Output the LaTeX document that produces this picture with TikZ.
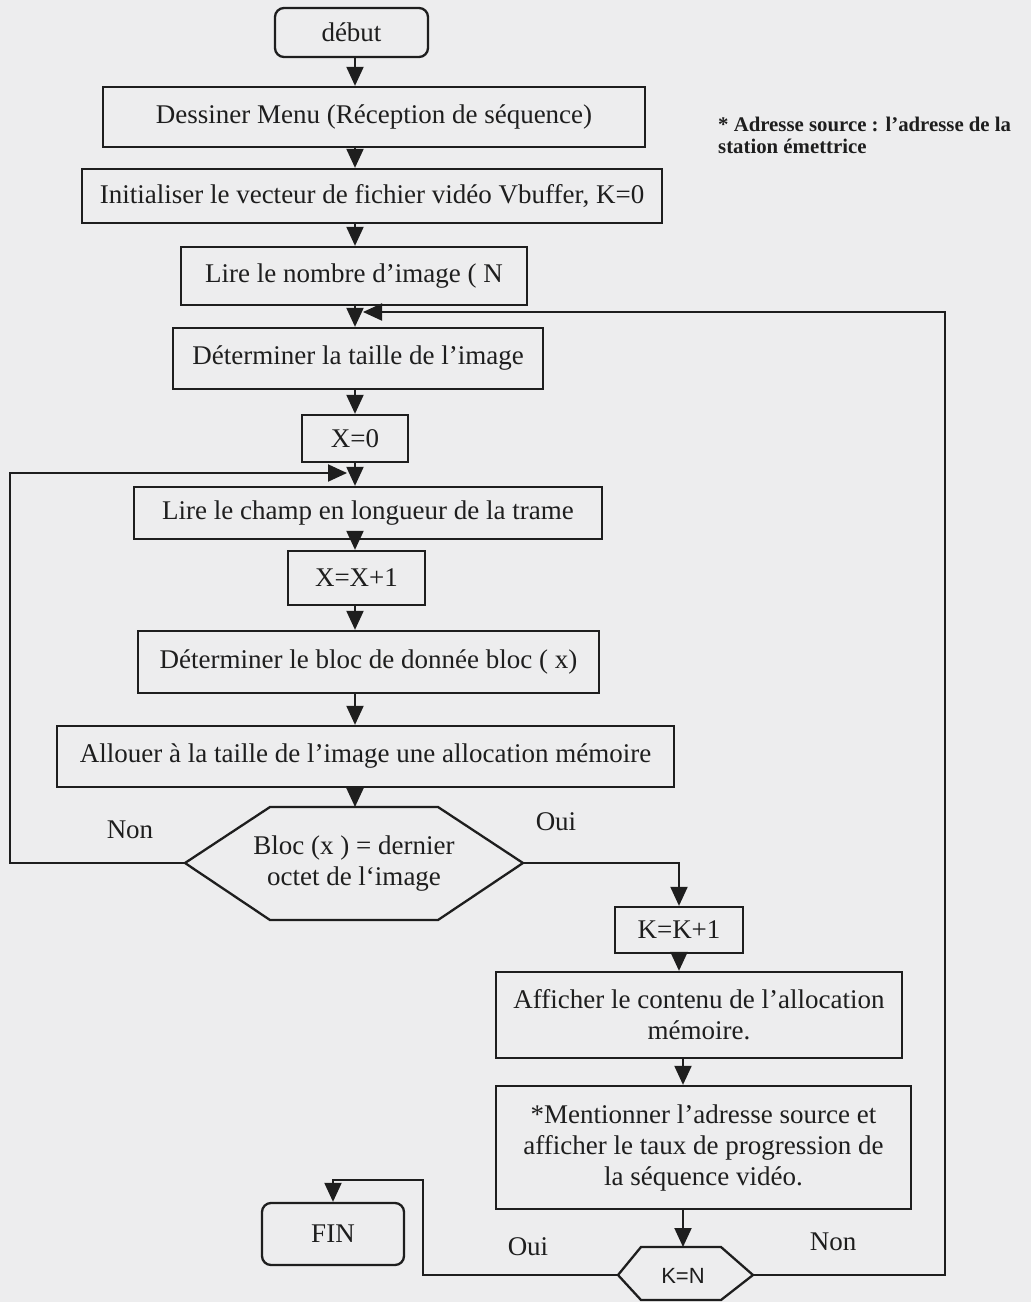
\documentclass[tikz,border=0pt]{standalone}
\usepackage{fontspec}
\setmainfont{Liberation Serif}
\newfontfamily\labelsans{Liberation Sans}
\usetikzlibrary{arrows.meta}
\definecolor{paper}{RGB}{237,237,238}
\definecolor{ink}{RGB}{30,30,30}
\begin{document}
\begin{tikzpicture}[x=1pt,y=-1pt,
  txt/.style={text=ink, font=\fontsize{27}{31}\selectfont},
  box/.style={txt, draw=ink, line width=2.3pt, rectangle, inner sep=0pt, align=center},
  term/.style={box, rounded corners=9pt},
  lbl/.style={txt, inner sep=0pt},
  flow/.style={draw=ink, line width=2pt, -{Triangle[length=19pt,width=17pt]}},
  hexa/.style={draw=ink, line width=2.3pt, line join=miter}
]
% page
\path[fill=paper, use as bounding box] (0,0) rectangle (1031,1302);

% main column
\coordinate (col) at (355,0);
\node[term, minimum width=153pt, minimum height=49pt] (debut) at (351.5,32.5) {début};
\node[box, minimum width=542pt, minimum height=60pt] (dessiner) at (374,117) {Dessiner Menu (Réception de séquence)};
\node[box, minimum width=580pt, minimum height=54pt] (init) at (372,196) {Initialiser le vecteur de fichier vidéo Vbuffer, K=0};
\node[box, minimum width=346pt, minimum height=58pt] (lirenb) at (354,276) {Lire le nombre d’image ( N};
\node[box, minimum width=370pt, minimum height=61pt] (dettaille) at (358,358.5) {Déterminer la taille de l’image};
\node[box, minimum width=106pt, minimum height=47pt] (xzero) at (355,438.5) {X=0};
\node[box, minimum width=468pt, minimum height=52pt] (lirechamp) at (368,513) {Lire le champ en longueur de la trame};
\node[box, minimum width=137pt, minimum height=54pt] (xinc) at (356.5,578) {X=X+1};
\node[box, minimum width=461pt, minimum height=62pt] (detbloc) at (368.5,662) {Déterminer le bloc de donnée bloc ( x)};
\node[box, minimum width=617pt, minimum height=61pt] (allouer) at (365.5,756.5) {Allouer à la taille de l’image une allocation mémoire};

% decision: last byte of the image
\coordinate (blocW) at (185,863);
\coordinate (blocN) at (355,807);
\coordinate (blocE) at (523,863);
\draw[hexa] (blocW) -- (270,807) -- (438,807) -- (blocE) -- (438,920) -- (270,920) -- cycle;
\node[lbl, align=center] (bloctxt) at (354,864) {Bloc (x ) = dernier\\octet de l‘image};

% right branch
\node[box, minimum width=128pt, minimum height=46pt] (kinc) at (679,930) {K=K+1};
\node[box, minimum width=406pt, minimum height=86pt] (afficher) at (699,1015) {Afficher le contenu de l’allocation\\mémoire.};
\node[box, minimum width=415pt, minimum height=123pt] (mention) at (703.5,1147.5) {*Mentionner l’adresse source et\\afficher le taux de progression de\\la séquence vidéo.};

% decision: K=N
\coordinate (col2) at (683,0);
\coordinate (knW) at (618,1275);
\coordinate (knN) at (683,1247);
\coordinate (knE) at (753,1275);
\draw[hexa] (knW) -- (641,1247) -- (721,1247) -- (knE) -- (721,1300) -- (641,1300) -- cycle;
\node[text=ink, font=\labelsans\fontsize{22}{26}\selectfont, inner sep=0pt] (kntxt) at (683,1276) {K=N};

\node[term, minimum width=142pt, minimum height=62pt] (fin) at (333,1234) {FIN};

% note
\node[anchor=base west, text=ink, font=\bfseries\fontsize{20.8}{23}\selectfont, inner sep=0pt] (note1) at (718,131) {* Adresse source : l’adresse de la};
\node[anchor=base west, text=ink, font=\bfseries\fontsize{20.8}{23}\selectfont, inner sep=0pt] (note2) at (718,153) {station émettrice};

% branch labels
\node[lbl] (non1) at (130,830) {Non};
\node[lbl] (oui1) at (556,822) {Oui};
\node[lbl] (oui2) at (528,1247) {Oui};
\node[lbl] (non2) at (833,1242) {Non};

% straight connectors
\draw[flow] (col |- debut.south) -- (col |- dessiner.north);
\draw[flow] (col |- dessiner.south) -- (col |- init.north);
\draw[flow] (col |- init.south) -- (col |- lirenb.north);
\draw[flow] (col |- lirenb.south) -- (col |- dettaille.north);
\draw[flow] (col |- dettaille.south) -- (col |- xzero.north);
\draw[flow] (col |- xzero.south) -- (col |- lirechamp.north);
\draw[flow] (col |- lirechamp.south) -- (col |- xinc.north);
\draw[flow] (col |- xinc.south) -- (col |- detbloc.north);
\draw[flow] (col |- detbloc.south) -- (col |- allouer.north);
\draw[flow] (col |- allouer.south) -- (blocN);
\draw[flow] (blocE) -| (kinc.north);
\draw[flow] (kinc.south) -- (kinc.south |- afficher.north);
\draw[flow] (col2 |- afficher.south) -- (col2 |- mention.north);
\draw[flow] (col2 |- mention.south) -- (knN);

% loops
\coordinate (railL) at (10,473);
\coordinate (loopL) at (347,473);
\draw[flow] (blocW) -| (railL) -- (loopL);
\coordinate (railR) at (945,312);
\coordinate (loopR) at (363,312);
\draw[flow] (knE) -| (railR) -- (loopR);
\coordinate (railF) at (423,1180);
\draw[flow] (knW) -| (railF) -| (fin.north);
\end{tikzpicture}
\end{document}
